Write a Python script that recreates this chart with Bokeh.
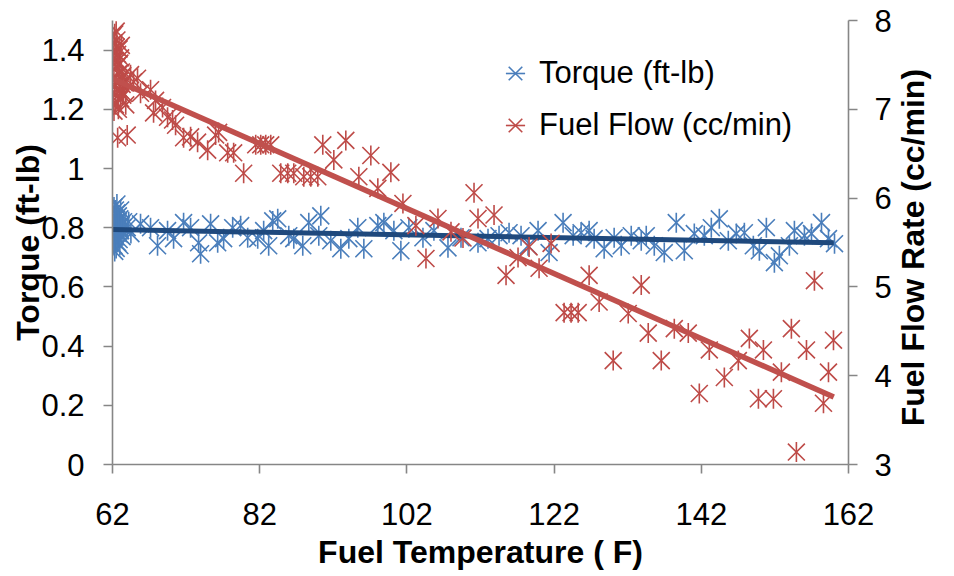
import math
from bokeh.plotting import figure
from bokeh.models import Range1d, LinearAxis, FixedTicker, Legend, LegendItem
from bokeh.embed import file_html
from bokeh.resources import INLINE

# ---------------- data ----------------
torque_temp = [
    62.0, 62.0, 62.1, 62.1, 62.2, 62.2, 62.3, 62.3, 62.4, 62.4, 62.5, 62.5,
    62.6, 62.6, 62.7, 62.7, 62.8, 62.8, 62.9, 62.9, 63.0, 63.0, 63.1, 63.1,
    63.2, 63.3, 63.4, 63.5, 62.2, 62.5, 62.8, 63.0, 62.3, 62.6, 64.0, 64.5, 64.2,
    65.81, 67.17, 68.12, 69.48, 70.30, 71.66, 72.61, 73.97, 73.70, 75.33,
    76.29, 77.10, 78.33, 79.41, 80.37, 81.73, 82.54, 83.77, 84.45, 83.22,
    85.95, 86.63, 87.85, 88.67, 90.30, 90.03, 91.66, 93.02, 94.11, 95.33,
    96.15, 98.05, 98.87, 100.23, 101.18, 102.27, 104.18, 105.67, 107.58,
    109.35, 111.66, 113.02, 114.52, 115.88, 117.51, 118.46, 119.82, 121.32,
    123.22, 124.59, 125.67, 126.76, 127.44, 128.80, 130.16, 131.12, 132.48,
    133.84, 134.52, 135.61, 136.97, 138.60, 139.69, 141.05, 142.41, 143.36,
    144.45, 145.67, 146.76, 147.85, 149.07, 149.89, 150.84, 151.93, 152.61,
    153.97, 154.65, 156.01, 156.97, 158.33, 159.28, 160.10,
]
torque_val = [
    0.79, 0.84, 0.76, 0.81, 0.87, 0.74, 0.80, 0.83, 0.77, 0.86, 0.82, 0.73,
    0.79, 0.85, 0.75, 0.81, 0.78, 0.84, 0.80, 0.76, 0.83, 0.74, 0.79, 0.86,
    0.81, 0.77, 0.80, 0.82, 0.78, 0.80, 0.82, 0.79, 0.72, 0.88, 0.80, 0.78, 0.82,
    0.813, 0.800, 0.739, 0.790, 0.763, 0.817, 0.800, 0.712, 0.749, 0.813,
    0.749, 0.763, 0.800, 0.807, 0.766, 0.763, 0.790, 0.823, 0.830, 0.739,
    0.773, 0.763, 0.739, 0.817, 0.840, 0.773, 0.756, 0.729, 0.763, 0.800,
    0.729, 0.807, 0.817, 0.790, 0.722, 0.800, 0.766, 0.790, 0.732,
    0.766, 0.749, 0.763, 0.773, 0.783, 0.773, 0.739, 0.790, 0.716,
    0.817, 0.773, 0.783, 0.790, 0.763, 0.729, 0.766, 0.739, 0.773,
    0.756, 0.773, 0.739, 0.716, 0.817, 0.722, 0.780, 0.773, 0.800,
    0.830, 0.756, 0.780, 0.783, 0.739, 0.722, 0.800, 0.682, 0.705,
    0.739, 0.790, 0.773, 0.780, 0.817, 0.763, 0.746,
]
fuel_temp = [
    62.0, 62.0, 62.1, 62.1, 62.2, 62.2, 62.3, 62.3, 62.4, 62.4, 62.5, 62.5,
    62.6, 62.6, 62.7, 62.7, 62.8, 62.8, 62.9, 62.9, 63.0, 63.0, 63.1, 63.1,
    63.2, 63.2, 63.3, 63.4, 63.5, 63.6, 62.2, 62.5, 62.8, 63.0, 62.4,
    64.45, 65.4, 63.4, 62.7, 64.0, 63.8,
    64.86, 65.81, 67.17, 67.85, 67.58, 68.80, 69.48, 70.16, 70.57, 71.66,
    72.61, 73.56, 74.93, 76.01, 76.42, 77.65, 78.46, 79.82, 81.46, 82.14,
    82.82, 83.50, 84.86, 85.81, 86.63, 87.99, 88.94, 89.89, 90.57, 92.07,
    93.70, 97.10, 95.47, 98.05, 99.82, 101.46, 111.12, 111.66, 113.84,
    103.22, 106.22, 104.59, 107.99, 109.62, 117.10, 115.47, 118.60, 119.96,
    121.59, 123.36, 124.31, 125.27, 126.76, 133.84, 128.12, 132.07, 134.79,
    138.33, 140.23, 130.03, 136.56, 143.09, 145.13, 147.03, 141.73, 148.53,
    150.44, 149.76, 151.80, 152.88, 154.24, 156.29, 157.37, 158.60, 159.28,
    159.96, 154.92,
]
fuel_val = [
    7.82, 7.35, 7.60, 7.10, 7.75, 7.45, 7.25, 7.85, 7.55, 7.05, 7.70, 7.30,
    7.48, 7.78, 7.15, 7.62, 7.40, 7.00, 7.68, 7.20, 7.52, 7.32, 7.12, 7.58,
    7.42, 7.72, 7.28, 7.38, 7.18, 7.30, 6.98, 7.88, 7.50, 7.22, 7.65,
    7.39, 7.35, 7.16, 6.68, 6.71, 7.05,
    7.31, 7.18, 7.22, 7.10, 6.96, 7.02, 6.91, 6.88, 6.82, 6.68,
    6.69, 6.63, 6.54, 6.71, 6.74, 6.51, 6.51, 6.28, 6.60, 6.60,
    6.60, 6.60, 6.28, 6.28, 6.28, 6.24, 6.24, 6.24, 6.60, 6.43,
    6.65, 6.48, 6.24, 6.11, 6.29, 5.94, 6.06, 5.77, 5.81,
    5.69, 5.77, 5.32, 5.62, 5.55, 5.33, 5.13, 5.45, 5.21,
    5.49, 4.71, 4.71, 4.71, 5.13, 5.02, 4.83, 4.70, 4.48,
    4.53, 4.48, 4.17, 4.17, 4.29, 3.98, 4.17, 3.80, 4.42,
    4.29, 3.74, 3.74, 4.04, 4.53, 4.29, 5.07, 3.69, 4.04,
    4.40, 3.14,
]
trend_temp = [62.0, 160.0]
torque_trend = [0.794, 0.749]
fuel_trend = [7.345, 3.76]

x_ticks = [62, 82, 102, 122, 142, 162]
torque_ticks = [0, 0.2, 0.4, 0.6, 0.8, 1.0, 1.2, 1.4]
torque_tick_labels = ["0", "0.2", "0.4", "0.6", "0.8", "1", "1.2", "1.4"]
fuel_ticks = [3, 4, 5, 6, 7, 8]

x_title = "Fuel Temperature ( F)"
left_title = "Torque (ft-lb)"
right_title = "Fuel Flow Rate (cc/min)"

# ---------------- styling ----------------
FONT = "Liberation Sans"
BLUE = "#4A7EBB"
RED = "#BE4B48"
NAVY = "#1F497D"
RED_LINE = "#C0504D"
AXIS = "#868686"
TICK_FS = "31px"
TITLE_FS = "32px"
RIGHT_TITLE_START = 3.43   # where the bottom-to-top right title begins (fuel units)

p = figure(width=954, height=576, output_backend="svg", toolbar_location=None,
           x_range=Range1d(62, 162), y_range=Range1d(0, 1.5),
           min_border_left=112, min_border_right=106,
           min_border_top=20, min_border_bottom=112)
p.extra_y_ranges = {"fuel": Range1d(3, 8)}
p.outline_line_color = None
p.xgrid.visible = False
p.ygrid.visible = False
p.background_fill_color = "white"


def style_axis(ax):
    ax.axis_line_color = AXIS
    ax.axis_line_width = 1.6
    ax.major_tick_line_color = AXIS
    ax.major_tick_line_width = 1.6
    ax.major_tick_out = 9
    ax.major_tick_in = 0
    ax.minor_tick_line_color = None
    ax.major_label_text_font = FONT
    ax.major_label_text_font_size = TICK_FS
    ax.major_label_text_color = "black"
    ax.axis_label_text_font = FONT
    ax.axis_label_text_font_size = TITLE_FS
    ax.axis_label_text_font_style = "bold"
    ax.axis_label_text_color = "black"


xa = p.xaxis[0]
style_axis(xa)
xa.ticker = FixedTicker(ticks=x_ticks)
xa.axis_label = x_title
xa.major_label_standoff = 29
xa.axis_label_standoff = 6

ya = p.yaxis[0]
style_axis(ya)
ya.ticker = FixedTicker(ticks=torque_ticks)
ya.major_label_overrides = {t: s for t, s in zip(torque_ticks, torque_tick_labels)}
ya.axis_label = left_title
ya.major_label_standoff = 19
ya.axis_label_standoff = -8

ra = LinearAxis(y_range_name="fuel", ticker=FixedTicker(ticks=fuel_ticks))
style_axis(ra)
ra.major_label_standoff = 17
p.add_layout(ra, "right")

# second, invisible right axis that only carries the title, reading bottom-to-top
rt = LinearAxis(y_range_name="fuel", ticker=FixedTicker(ticks=[RIGHT_TITLE_START]))
rt.major_label_overrides = {RIGHT_TITLE_START: right_title}
rt.major_label_orientation = math.pi / 2
rt.axis_line_color = None
rt.major_tick_line_color = None
rt.minor_tick_line_color = None
rt.major_tick_out = 0
rt.major_tick_in = 0
rt.major_label_standoff = 19
rt.major_label_text_font = FONT
rt.major_label_text_font_size = TITLE_FS
rt.major_label_text_font_style = "bold"
rt.major_label_text_color = "black"
p.add_layout(rt, "right")

# ---------------- marks ----------------
tq_x = p.scatter(torque_temp, torque_val, marker="x", size=24,
                 line_color=BLUE, line_width=1.6)
tq_d = p.scatter(torque_temp, torque_val, marker="dash", angle=math.pi / 2,
                 size=20, line_color=BLUE, line_width=1.6)
p.line(trend_temp, torque_trend, line_color=NAVY, line_width=5)

fu_x = p.scatter(fuel_temp, fuel_val, marker="x", size=24, y_range_name="fuel",
                 line_color=RED, line_width=1.6)
fu_d = p.scatter(fuel_temp, fuel_val, marker="dash", angle=math.pi / 2, size=20,
                 y_range_name="fuel", line_color=RED, line_width=1.6)
p.line(trend_temp, fuel_trend, line_color=RED_LINE, line_width=5.5,
       y_range_name="fuel")


def make_legend(label, renderers, loc):
    lg = Legend(items=[LegendItem(label=label, renderers=renderers)], location=loc)
    lg.glyph_width = 48
    lg.glyph_height = 48
    lg.label_standoff = 0
    lg.padding = 0
    lg.margin = 0
    lg.border_line_color = None
    lg.background_fill_alpha = 0
    lg.label_text_font = FONT
    lg.label_text_font_size = "31px"
    lg.label_text_color = "black"
    return lg


p.add_layout(make_legend("Torque (ft-lb)", [tq_x, tq_d], (379, 367)), "center")
p.add_layout(make_legend("Fuel Flow (cc/min)", [fu_x, fu_d], (379, 315)), "center")

open("out.html", "w").write(file_html(p, INLINE))
